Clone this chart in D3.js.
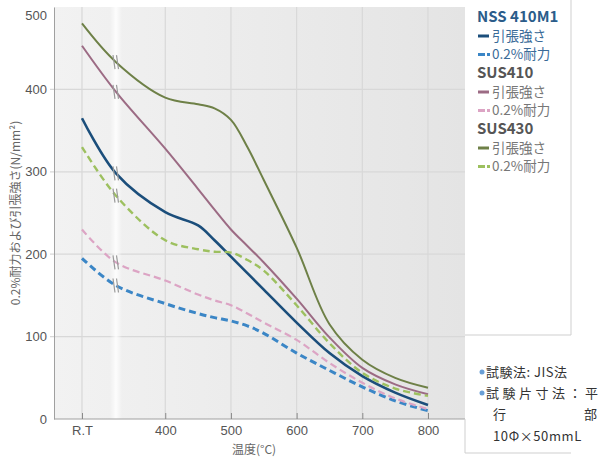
<!DOCTYPE html>
<html>
<head>
<meta charset="utf-8">
<script src="https://cdn.jsdelivr.net/npm/d3@7"></script>
<style>
    body { margin: 0; background: #fff; }
    svg { font-family: "Noto Sans CJK JP", "Noto Sans", sans-serif; }
</style>
</head>
<body>
<svg id="chart" width="602" height="459"></svg>
<script>
// Temperatures (25 = R.T, 325 = position of the axis break)
const temps = [25, 325, 400, 450, 475, 500, 525, 550, 600, 650, 700, 750, 800];
const tickTemps = [25, 400, 500, 600, 700, 800];
const tickLabels = ['R.T', '400', '500', '600', '700', '800'];
const yTicks = [0, 100, 200, 300, 400, 500];

// Values (N/mm2)
const nssTensile = [365, 298, 251, 235, 217, 197, 177, 157, 117, 80, 52, 32, 17];
const nssProof = [195, 162, 140, 128, 123, 119, 113, 104, 80, 59, 39, 22, 10];
const sus410Tensile = [453, 397, 328, 279, 254, 230, 210, 190, 146, 99, 62, 42, 30];
const sus410Proof = [230, 190, 168, 151, 144, 138, 128, 117, 96, 68, 44, 25, 12];
const sus430Tensile = [480, 433, 390, 382, 377, 363, 330, 290, 208, 115, 72, 50, 38];
const sus430Proof = [330, 271, 217, 206, 203, 202, 193, 180, 138, 92, 56, 37, 28];

const groups = [
    { name: 'NSS 410M1', headColor: '#2b5c8a', textColor: '#3a6b98',
      series: [
        { label: '引張強さ', values: nssTensile, color: '#1b4e7b', width: 2.6, dash: null },
        { label: '0.2%耐力', values: nssProof, color: '#3b86c6', width: 3, dash: '7,4' }
      ] },
    { name: 'SUS410', headColor: '#555', textColor: '#777',
      series: [
        { label: '引張強さ', values: sus410Tensile, color: '#9c6b84', width: 2, dash: null },
        { label: '0.2%耐力', values: sus410Proof, color: '#dca4c4', width: 2.2, dash: '7,4' }
      ] },
    { name: 'SUS430', headColor: '#555', textColor: '#777',
      series: [
        { label: '引張強さ', values: sus430Tensile, color: '#6e8047', width: 2, dash: null },
        { label: '0.2%耐力', values: sus430Proof, color: '#9dc05f', width: 2.4, dash: '7,4' }
      ] }
];

const svg = d3.select('#chart');
const plot = { left: 54, right: 465, top: 7, bottom: 419 };

const x = d3.scaleLinear()
    .domain([25, 325, 800])
    .range([82, 116, 428]);

const y = d3.scaleLinear()
    .domain([0, 500])
    .range([plot.bottom, plot.top]);

// Background gradients
const defs = svg.append('defs');
const bg = defs.append('linearGradient').attr('id', 'bg');
bg.append('stop').attr('offset', '0%').attr('stop-color', '#f2f2f2');
bg.append('stop').attr('offset', '100%').attr('stop-color', '#e4e4e4');
const band = defs.append('linearGradient').attr('id', 'band');
band.append('stop').attr('offset', '0%').attr('stop-color', '#fff').attr('stop-opacity', 0);
band.append('stop').attr('offset', '50%').attr('stop-color', '#fff').attr('stop-opacity', 0.85);
band.append('stop').attr('offset', '100%').attr('stop-color', '#fff').attr('stop-opacity', 0);

svg.append('rect')
    .attr('x', plot.left).attr('y', plot.top)
    .attr('width', plot.right - plot.left).attr('height', plot.bottom - plot.top)
    .attr('fill', 'url(#bg)');

// Grid
svg.append('g').selectAll('line.hgrid')
    .data(yTicks.filter(d => d > 0 && d < 500))
    .enter().append('line')
    .attr('x1', plot.left - 4).attr('x2', plot.right)
    .attr('y1', d => y(d)).attr('y2', d => y(d))
    .attr('stroke', '#d8d8d8').attr('stroke-width', 1.2);

svg.append('g').selectAll('line.vgrid')
    .data(tickTemps)
    .enter().append('line')
    .attr('x1', d => x(d)).attr('x2', d => x(d))
    .attr('y1', plot.top).attr('y2', plot.bottom)
    .attr('stroke', '#d8d8d8').attr('stroke-width', 1.2);

// Break band
svg.append('rect')
    .attr('x', x(325) - 6).attr('y', plot.top)
    .attr('width', 12).attr('height', plot.bottom - plot.top)
    .attr('fill', 'url(#band)');

// Axes
const xAxis = svg.append('g')
    .attr('transform', `translate(0,${plot.bottom})`)
    .call(d3.axisBottom(x).tickValues(tickTemps).tickSize(-6).tickPadding(7)
        .tickFormat((d, i) => tickLabels[i]));
xAxis.select('.domain').attr('d', `M${plot.left},0H${plot.right}`).attr('stroke', '#a0a0a0');
xAxis.selectAll('.tick line').attr('stroke', '#8a8a8a');
xAxis.selectAll('text').attr('font-size', 13).attr('fill', '#555');

const yAxis = svg.append('g')
    .attr('transform', `translate(${plot.left},0)`)
    .call(d3.axisLeft(y).tickValues(yTicks).tickSize(0).tickPadding(7));
yAxis.select('.domain').attr('stroke', '#a0a0a0');
yAxis.selectAll('text').attr('font-size', 13).attr('fill', '#555');
yAxis.selectAll('.tick').filter(d => d === 500).select('text').attr('y', 8);

// Axis titles
svg.append('text')
    .attr('x', 254).attr('y', 454)
    .attr('text-anchor', 'middle')
    .attr('font-size', 12).attr('fill', '#666')
    .text('温度(°C)');

svg.append('text')
    .attr('transform', 'translate(20,213) rotate(-90)')
    .attr('text-anchor', 'middle')
    .attr('font-size', 12).attr('fill', '#666')
    .text('0.2%耐力および引張強さ(N/mm²)');

// Curves
const line = d3.line()
    .x((d, i) => x(temps[i]))
    .y(d => y(d))
    .curve(d3.curveCatmullRom.alpha(0.5));

const allSeries = groups.flatMap(g => g.series);

svg.append('g').selectAll('path.curve')
    .data(allSeries)
    .enter().append('path')
    .attr('class', 'curve')
    .attr('d', d => line(d.values))
    .attr('fill', 'none')
    .attr('stroke', d => d.color)
    .attr('stroke-width', d => d.width)
    .attr('stroke-dasharray', d => d.dash);

// Break marks on each curve
const breakMarks = svg.append('g').selectAll('g.brk')
    .data(allSeries)
    .enter().append('g')
    .attr('transform', d => `translate(${x(325)},${y(d.values[1])})`);
breakMarks.selectAll('line')
    .data([-2, 1.5])
    .enter().append('line')
    .attr('x1', d => d - 1).attr('x2', d => d + 1)
    .attr('y1', -7).attr('y2', 7)
    .attr('stroke', '#9a9a9a').attr('stroke-width', 1.2);

// Legend box
svg.append('path')
    .attr('d', `M571,0V335H${plot.right}`)
    .attr('fill', 'none').attr('stroke', '#cfcfcf');

let ly = 17;
groups.forEach(g => {
    svg.append('text')
        .attr('x', 477).attr('y', ly).attr('dy', '0.35em')
        .attr('font-size', 15).attr('font-weight', 'bold')
        .attr('fill', g.headColor)
        .text(g.name);
    ly += 19;
    g.series.forEach(s => {
        const item = svg.append('g').attr('transform', `translate(478,${ly})`);
        if (s.dash) {
            item.append('line').attr('x1', 0).attr('x2', 7).attr('y1', 0).attr('y2', 0)
                .attr('stroke', s.color).attr('stroke-width', 3);
            item.append('rect').attr('x', 9).attr('y', -1.5).attr('width', 3).attr('height', 3)
                .attr('fill', s.color);
        } else {
            item.append('line').attr('x1', 0).attr('x2', 11).attr('y1', 0).attr('y2', 0)
                .attr('stroke', s.color).attr('stroke-width', 3);
        }
        item.append('text')
            .attr('x', 14).attr('dy', '0.35em')
            .attr('font-size', 13.5).attr('fill', g.textColor)
            .text(s.label);
        ly += 18.5;
    });
});

// Notes box
svg.append('path')
    .attr('d', `M${plot.right},${plot.bottom}V453H571`)
    .attr('fill', 'none').attr('stroke', '#cfcfcf');

const notes = svg.append('g').attr('font-size', 13).attr('fill', '#333');
[['試験法: JIS法', 372, 0.5], ['試験片寸法：平', 393, 3.5]].forEach(([t, yy, ls]) => {
    notes.append('circle').attr('cx', 482).attr('cy', yy).attr('r', 2.5).attr('fill', '#6a9fd6');
    notes.append('text').attr('x', 486).attr('y', yy).attr('dy', '0.35em')
        .attr('letter-spacing', ls).text(t);
});
notes.append('text').attr('x', 493).attr('y', 414).attr('dy', '0.35em').text('行');
notes.append('text').attr('x', 584).attr('y', 414).attr('dy', '0.35em').text('部');
notes.append('text').attr('x', 493).attr('y', 436).attr('dy', '0.35em')
    .attr('letter-spacing', 0.6).text('10Φ×50mmL');
</script>
</body>
</html>
